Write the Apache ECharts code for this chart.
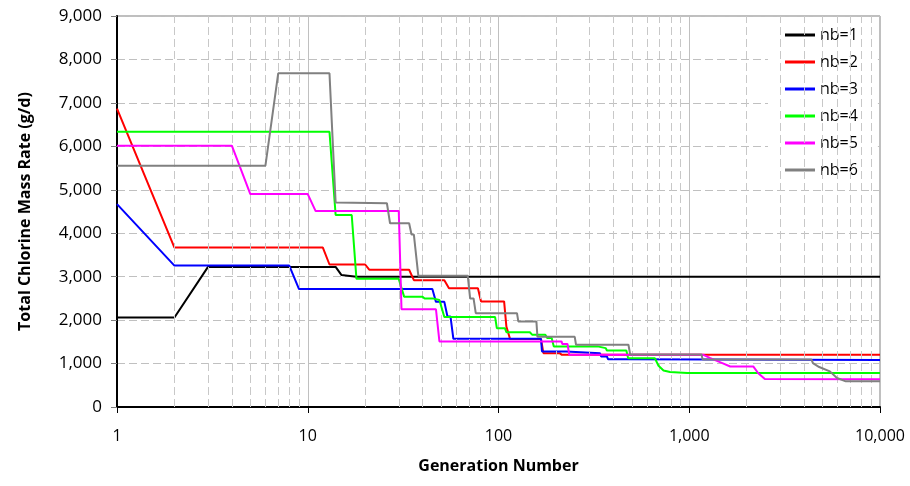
<!DOCTYPE html>
<html>
<head>
<meta charset="utf-8">
<script src="https://cdn.jsdelivr.net/npm/echarts@6/dist/echarts.min.js"></script>
<style>html,body{margin:0;padding:0;background:#fff}#c{width:910px;height:486px}</style>
</head>
<body>
<div id="c"></div>
<script>
// Series names
const seriesNames = ['nb=1','nb=2','nb=3','nb=4','nb=5','nb=6'];
const seriesColors = ['#000000','#ff0000','#0000ff','#00ff00','#ff00ff','#808080'];
// X tick labels (log axis) and Y ticks
const xTicks = [1, 10, 100, 1000, 10000];
const yTicks = [0,1000,2000,3000,4000,5000,6000,7000,8000,9000];
// Minor vertical grid positions (2..9 per decade)
const xMinor = [2,3,4,5,6,7,8,9,20,30,40,50,60,70,80,90,200,300,400,500,600,700,800,900,2000,3000,4000,5000,6000,7000,8000,9000];

// [generation, total chlorine mass rate g/d]
const nb1 = [[1,2060],[2,2060],[3,3225],[14,3225],[15,3040],[18,3000],[10000,3000]];
const nb2 = [[1,6870],[2,3670],[12,3670],[13,3280],[20,3280],[21,3160],[34,3160],[36,2920],[52,2920],[55,2735],[78,2735],[81,2430],[107,2430],[110,1850],[115,1565],[167,1565],[172,1240],[209,1240],[215,1200],[10000,1200]];
const nb3 = [[1,4670],[2,3255],[8,3255],[9,2715],[45,2715],[47,2420],[52,2420],[54,2085],[56,2085],[58,1570],[167,1570],[169,1280],[226,1280],[230,1240],[340,1240],[345,1165],[370,1165],[375,1100],[468,1100],[475,1080],[10000,1080]];
const nb4 = [[1,6335],[13,6335],[14,4420],[17,4420],[18,2950],[30,2950],[32,2540],[40,2540],[41,2500],[45,2500],[46,2465],[49,2465],[52,2070],[96,2070],[98,1815],[108,1815],[110,1720],[146,1720],[150,1665],[176,1665],[180,1590],[190,1590],[195,1395],[330,1395],[335,1355],[365,1355],[370,1300],[468,1300],[478,1125],[660,1125],[690,950],[733,842],[793,805],[975,780],[10000,780]];
const nb5 = [[1,6015],[4,6015],[5,4900],[10,4900],[11,4510],[30,4510],[31,2250],[47,2250],[49,1510],[214,1510],[216,1450],[230,1450],[235,1200],[1186,1200],[1290,1126],[1490,1011],[1640,933],[2165,933],[2295,782],[2490,644],[10000,640]];
const nb6 = [[1,5555],[6,5555],[7,7680],[13,7680],[14,4705],[26,4690],[27,4230],[34,4230],[35,3970],[36,3970],[38,3020],[69,3020],[71,2500],[74,2500],[76,2160],[125,2160],[127,1970],[158,1970],[160,1615],[251,1615],[255,1432],[480,1432],[490,1210],[1160,1210],[1175,1095],[4370,1095],[4450,1011],[4800,920],[5460,820],[5950,667],[6620,590],[10000,590]];
const allData = [nb1,nb2,nb3,nb4,nb5,nb6];

const FONT = 'Open Sans';
const chart = echarts.init(document.getElementById('c'), null, {renderer:'canvas'});
const series = [{
  type:'line', name:'_grid', data:[], silent:true, z:1,
  markLine:{silent:true, symbol:'none', animation:false, label:{show:false},
    lineStyle:{color:'#c8c8c8', width:1, type:[8,4]},
    data: xMinor.map(v=>({xAxis:v}))}
}];
allData.forEach((d,i)=>{
  series.push({type:'line', name:seriesNames[i], data:d, symbol:'none', showSymbol:false,
    lineStyle:{color:seriesColors[i], width:2}, itemStyle:{color:seriesColors[i]},
    animation:false, z:2+i});
});
chart.setOption({
  animation:false,
  grid:{left:117, right:30, top:16, bottom:79, show:true, borderColor:'#7f7f7f', borderWidth:1, containLabel:false},
  legend:{data:seriesNames.map(n=>({name:n, icon:'rect'})), orient:'vertical', left:768, top:21, backgroundColor:'#fff',
    padding:[6,20,6,17], itemWidth:30, itemHeight:3, itemGap:11,
    textStyle:{fontFamily:FONT, fontSize:16, lineHeight:16, color:'#000'}},
  xAxis:{type:'log', logBase:10, min:1, max:10000,
    name:'Generation Number', nameLocation:'middle', nameGap:51,
    nameTextStyle:{fontFamily:FONT, fontSize:16, fontWeight:'bold', color:'#000'},
    axisLine:{show:true, onZero:false, lineStyle:{color:'#000', width:2}},
    axisTick:{show:true, length:6, lineStyle:{color:'#000'}},
    axisLabel:{fontFamily:FONT, fontSize:16, color:'#000', margin:21,
      formatter:v=>Number(v).toLocaleString('en-US')},
    splitLine:{show:true, lineStyle:{color:'#c0c0c0', width:1}}},
  yAxis:{type:'value', min:0, max:9000, interval:1000,
    name:'Total Chlorine Mass Rate (g/d)', nameLocation:'middle', nameGap:84,
    nameTextStyle:{fontFamily:FONT, fontSize:16, fontWeight:'bold', color:'#000'},
    axisLine:{show:true, lineStyle:{color:'#000', width:2}},
    axisTick:{show:true, length:6, lineStyle:{color:'#7f7f7f'}},
    axisLabel:{fontFamily:FONT, fontSize:17, color:'#000', margin:15,
      formatter:v=>Number(v).toLocaleString('en-US')},
    splitLine:{show:true, lineStyle:{color:'#c0c0c0', width:1, type:[8,4]}}},
  series: series
});
</script>
</body>
</html>
